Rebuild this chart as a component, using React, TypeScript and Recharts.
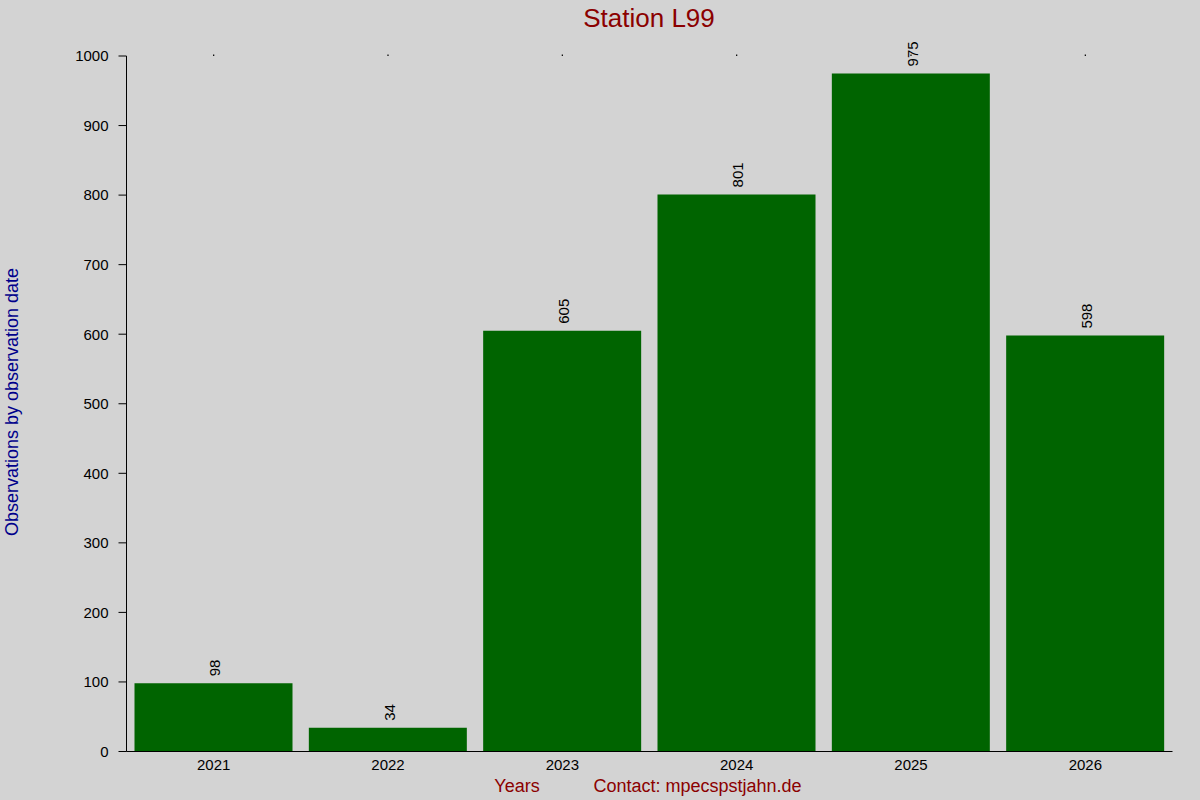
import React from 'react';
import { BarChart, Bar, XAxis, YAxis, LabelList, Customized } from 'recharts';

const years = ['2021', '2022', '2023', '2024', '2025', '2026'];
const observations = [98, 34, 605, 801, 975, 598];
const yTicks = [0, 100, 200, 300, 400, 500, 600, 700, 800, 900, 1000];

const titleText = 'Station L99';
const yLabelText = 'Observations by observation date';
const xLabelText = 'Years';
const contactText = 'Contact: mpecspstjahn.de';

const data = years.map((y, i) => ({ year: y, count: observations[i] }));

const FONT = '"Liberation Sans", Arial, sans-serif';

const ValueLabel = (props: any) => {
  const { x, y, width, value } = props;
  const cx = Number(x) + Number(width) / 2 + 7;
  const ty = Number(y) - 7;
  return (
    <text
      x={cx}
      y={ty}
      transform={`rotate(-90, ${cx}, ${ty})`}
      textAnchor="start"
      fontSize={15}
      fill="#000"
      fontFamily={FONT}
    >
      {value}
    </text>
  );
};

const EmptyTick = () => <g />;

const Texts = () => (
  <g fontFamily={FONT}>
    <text x={649} y={27} textAnchor="middle" fontSize={26} fill="#8b0000">
      {titleText}
    </text>
    <text
      x={17.5}
      y={402}
      transform="rotate(-90, 17.5, 402)"
      textAnchor="middle"
      fontSize={18}
      fill="#00008b"
    >
      {yLabelText}
    </text>
    <text x={517} y={792} textAnchor="middle" fontSize={18} fill="#8b0000">
      {xLabelText}
    </text>
    <text x={697.5} y={792} textAnchor="middle" fontSize={18} fill="#8b0000">
      {contactText}
    </text>
  </g>
);

export default function App() {
  return (
    <div
      style={{
        position: 'absolute',
        left: 0,
        top: 0,
        width: 1200,
        height: 800,
        background: '#d3d3d3',
        fontFamily: FONT,
      }}
    >
      <BarChart
        width={1200}
        height={800}
        data={data}
        margin={{ top: 55, right: 27.5, bottom: 18.5, left: 0.5 }}
        barSize={158}
        style={{ fontFamily: FONT }}
      >
        <XAxis
          xAxisId="top"
          orientation="top"
          dataKey="year"
          height={1}
          tick={EmptyTick}
          tickSize={1.5}
          axisLine={false}
          tickLine={{ stroke: '#000', strokeWidth: 1.2 }}
        />
        <XAxis
          xAxisId="main"
          dataKey="year"
          height={30}
          tickLine={false}
          axisLine={{ stroke: '#000' }}
          tick={{ fill: '#000', fontSize: 15 }}
        />
        <YAxis
          width={126}
          domain={[0, 1000]}
          ticks={yTicks}
          interval={0}
          tickSize={8}
          tickMargin={10}
          axisLine={{ stroke: '#000' }}
          tickLine={{ stroke: '#000' }}
          tick={{ fill: '#000', fontSize: 15 }}
        />
        <Bar xAxisId="main" dataKey="count" fill="#006400" isAnimationActive={false}>
          <LabelList dataKey="count" content={ValueLabel} />
        </Bar>
        <Customized component={Texts} />
      </BarChart>
    </div>
  );
}
